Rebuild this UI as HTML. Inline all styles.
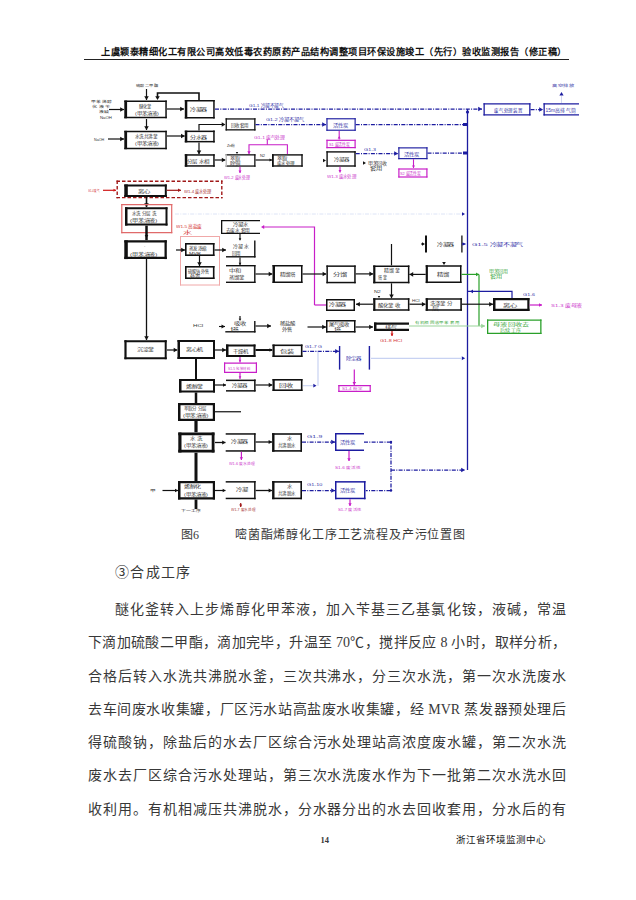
<!DOCTYPE html>
<html lang="zh-CN"><head><meta charset="utf-8">
<style>
html,body{margin:0;padding:0;background:#fff;}
body{width:636px;height:900px;position:relative;overflow:hidden;font-family:"Liberation Serif",serif;color:#383838;}
.ln{position:absolute;white-space:nowrap;text-align:justify;text-align-last:justify;line-height:1;}
.hd{left:101px;top:47.5px;width:465px;font-size:9.2px;font-weight:bold;color:#111;}
.hr{position:absolute;left:84px;top:59px;width:485px;height:1px;background:#222;}
.body{font-size:14px;width:478px;left:88px;}
.cap{position:absolute;top:529px;font-size:12px;line-height:1;white-space:nowrap;}
svg{position:absolute;left:0;top:0;}
</style></head><body>
<div class="ln hd">上虞颖泰精细化工有限公司高效低毒农药原药产品结构调整项目环保设施竣工（先行）验收监测报告（修正稿）</div>
<div class="hr"></div>

<div class="cap" style="left:181px;">图6</div>
<div class="ln cap" style="left:235px;width:230px;">嘧菌酯烯醇化工序工艺流程及产污位置图</div>

<div class="ln" style="left:115px;top:566px;font-size:14px;width:75px;">③合成工序</div>
<div class="ln body" style="left:115px;width:451px;top:603px;">醚化釜转入上步烯醇化甲苯液，加入苄基三乙基氯化铵，液碱，常温</div>
<div class="ln body" style="top:636px;">下滴加硫酸二甲酯，滴加完毕，升温至 70℃，搅拌反应 8 小时，取样分析，</div>
<div class="ln body" style="top:670px;">合格后转入水洗共沸脱水釜，三次共沸水，分三次水洗，第一次水洗废水</div>
<div class="ln body" style="top:703px;">去车间废水收集罐，厂区污水站高盐废水收集罐，经 MVR 蒸发器预处理后</div>
<div class="ln body" style="top:735.5px;">得硫酸钠，除盐后的水去厂区综合污水处理站高浓度废水罐，第二次水洗</div>
<div class="ln body" style="top:769px;">废水去厂区综合污水处理站，第三次水洗废水作为下一批第二次水洗水回</div>
<div class="ln body" style="top:802.5px;">收利用。有机相减压共沸脱水，分水器分出的水去回收套用，分水后的有</div>

<div class="ln" style="left:320.5px;top:835.5px;font-size:8.5px;font-weight:bold;">14</div>
<div class="ln" style="left:456px;top:836px;width:86px;font-size:9.5px;color:#111;">浙江省环境监测中心</div>

<svg width="636" height="900" viewBox="0 0 636 900" style="font-family:'Liberation Sans',sans-serif">
<text x="91" y="103" font-size="3.82" fill="#333" text-anchor="start" textLength="21.2" lengthAdjust="spacingAndGlyphs">甲苯 烯醇</text>
<text x="92" y="108" font-size="3.82" fill="#333" text-anchor="start" textLength="18.7" lengthAdjust="spacingAndGlyphs">化 液 苄</text>
<text x="99" y="113" font-size="3.82" fill="#333" text-anchor="start" textLength="10.2" lengthAdjust="spacingAndGlyphs">液碱</text>
<text x="100" y="119" font-size="3.82" fill="#333" text-anchor="start" textLength="11.9" lengthAdjust="spacingAndGlyphs">NaOH</text>
<line x1="109" y1="109.5" x2="124" y2="109.5" stroke="#111" stroke-width="1.2"/>
<polygon points="124.00,109.50 120.20,107.22 120.20,111.78" fill="#111"/>
<text x="136" y="87" font-size="3.82" fill="#333" text-anchor="start" textLength="22.1" lengthAdjust="spacingAndGlyphs">硫酸二甲酯</text>
<line x1="146.5" y1="89" x2="146.5" y2="100" stroke="#111" stroke-width="1.2"/>
<polygon points="146.50,100.00 144.22,96.20 148.78,96.20" fill="#111"/>
<rect x="124.3" y="100.5" width="42.500000000000014" height="17.799999999999997" fill="#fff"/>
<line x1="124.3" y1="101.25" x2="166.8" y2="101.25" stroke="#111" stroke-width="1.5"/>
<line x1="124.3" y1="117.55" x2="166.8" y2="117.55" stroke="#111" stroke-width="1.5"/>
<line x1="166.05" y1="100.5" x2="166.05" y2="118.3" stroke="#111" stroke-width="1.5"/>
<line x1="125.7" y1="100.5" x2="125.7" y2="118.3" stroke="#111" stroke-width="2.8"/>
<text x="139" y="108" font-size="4.25" fill="#333" text-anchor="start" textLength="11.9" lengthAdjust="spacingAndGlyphs">醚化釜</text>
<text x="135" y="115" font-size="4.25" fill="#333" text-anchor="start" textLength="23.8" lengthAdjust="spacingAndGlyphs">(甲苯溶液)</text>
<polyline points="199,100 199,93 157.5,93 157.5,97" fill="none" stroke="#111" stroke-width="1.6"/>
<polygon points="157.50,100.00 155.22,96.20 159.78,96.20" fill="#111"/>
<line x1="167" y1="109" x2="184" y2="109" stroke="#111" stroke-width="1.2"/>
<polygon points="184.00,109.00 180.20,106.72 180.20,111.28" fill="#111"/>
<rect x="184.8" y="100" width="29.899999999999977" height="18.5" fill="#fff"/>
<line x1="184.8" y1="100.75" x2="214.7" y2="100.75" stroke="#111" stroke-width="1.5"/>
<line x1="184.8" y1="117.75" x2="214.7" y2="117.75" stroke="#111" stroke-width="1.5"/>
<line x1="213.95" y1="100" x2="213.95" y2="118.5" stroke="#111" stroke-width="1.5"/>
<line x1="186.05" y1="100" x2="186.05" y2="118.5" stroke="#111" stroke-width="2.5"/>
<text x="190" y="111" font-size="4.25" fill="#333" text-anchor="start" textLength="17.0" lengthAdjust="spacingAndGlyphs">冷凝器</text>
<line x1="146.5" y1="119" x2="146.5" y2="130" stroke="#111" stroke-width="1.2"/>
<polygon points="146.50,130.00 144.22,126.20 148.78,126.20" fill="#111"/>
<text x="94" y="141" font-size="3.82" fill="#333" text-anchor="start" textLength="10.2" lengthAdjust="spacingAndGlyphs">NaOH</text>
<line x1="108" y1="139" x2="124" y2="139" stroke="#111" stroke-width="1.2"/>
<polygon points="124.00,139.00 120.20,136.72 120.20,141.28" fill="#111"/>
<rect x="124.3" y="130.8" width="42.500000000000014" height="18.399999999999977" fill="#fff"/>
<line x1="124.3" y1="131.55" x2="166.8" y2="131.55" stroke="#111" stroke-width="1.5"/>
<line x1="124.3" y1="148.45" x2="166.8" y2="148.45" stroke="#111" stroke-width="1.5"/>
<line x1="166.05" y1="130.8" x2="166.05" y2="149.2" stroke="#111" stroke-width="1.5"/>
<line x1="125.7" y1="130.8" x2="125.7" y2="149.2" stroke="#111" stroke-width="2.8"/>
<text x="135" y="138" font-size="4.25" fill="#333" text-anchor="start" textLength="22.1" lengthAdjust="spacingAndGlyphs">水洗共沸釜</text>
<text x="135" y="145" font-size="4.25" fill="#333" text-anchor="start" textLength="23.8" lengthAdjust="spacingAndGlyphs">(甲苯溶液)</text>
<line x1="167" y1="136" x2="184.8" y2="136" stroke="#111" stroke-width="1.2"/>
<polygon points="184.80,136.00 181.00,133.72 181.00,138.28" fill="#111"/>
<rect x="184.8" y="130.6" width="29.899999999999977" height="11.800000000000011" fill="#fff"/>
<line x1="184.8" y1="131.35" x2="214.7" y2="131.35" stroke="#111" stroke-width="1.5"/>
<line x1="184.8" y1="141.65" x2="214.7" y2="141.65" stroke="#111" stroke-width="1.5"/>
<line x1="213.95" y1="130.6" x2="213.95" y2="142.4" stroke="#111" stroke-width="1.5"/>
<line x1="186.05" y1="130.6" x2="186.05" y2="142.4" stroke="#111" stroke-width="2.5"/>
<text x="190" y="139" font-size="4.25" fill="#333" text-anchor="start" textLength="17.0" lengthAdjust="spacingAndGlyphs">分水器</text>
<polyline points="199,130.6 199,124.5 222,124.5" fill="none" stroke="#111" stroke-width="1.2"/>
<polygon points="225.50,124.50 221.70,122.22 221.70,126.78" fill="#111"/>
<rect x="225.6" y="118.3" width="29.900000000000006" height="12.200000000000003" fill="#fff"/>
<line x1="225.6" y1="118.95" x2="255.5" y2="118.95" stroke="#111" stroke-width="1.3"/>
<line x1="225.6" y1="129.85" x2="255.5" y2="129.85" stroke="#111" stroke-width="1.3"/>
<line x1="254.85" y1="118.3" x2="254.85" y2="130.5" stroke="#111" stroke-width="1.3"/>
<line x1="226.25" y1="118.3" x2="226.25" y2="130.5" stroke="#111" stroke-width="1.3"/>
<text x="231" y="127" font-size="4.25" fill="#333" text-anchor="start" textLength="17.0" lengthAdjust="spacingAndGlyphs">回收套用</text>
<line x1="199" y1="142.4" x2="199" y2="154.2" stroke="#111" stroke-width="1.2"/>
<polygon points="199.00,154.20 196.72,150.40 201.28,150.40" fill="#111"/>
<rect x="184.8" y="154.2" width="29.899999999999977" height="12.5" fill="#fff"/>
<line x1="184.8" y1="154.95" x2="214.7" y2="154.95" stroke="#111" stroke-width="1.5"/>
<line x1="184.8" y1="165.95" x2="214.7" y2="165.95" stroke="#111" stroke-width="1.5"/>
<line x1="213.95" y1="154.2" x2="213.95" y2="166.7" stroke="#111" stroke-width="1.5"/>
<line x1="186.05" y1="154.2" x2="186.05" y2="166.7" stroke="#111" stroke-width="2.5"/>
<text x="187" y="163" font-size="4.25" fill="#333" text-anchor="start" textLength="22.1" lengthAdjust="spacingAndGlyphs">分层 水相</text>
<line x1="214.7" y1="160" x2="225.6" y2="160" stroke="#111" stroke-width="1.2"/>
<polygon points="225.60,160.00 221.80,157.72 221.80,162.28" fill="#111"/>
<text x="227" y="147" font-size="3.82" fill="#333" text-anchor="start" textLength="8.5" lengthAdjust="spacingAndGlyphs">Zn粉</text>
<polygon points="237.00,154.00 235.80,152.00 238.20,152.00" fill="#111"/>
<rect x="225.6" y="154.2" width="29.900000000000006" height="12.5" fill="#fff"/>
<line x1="225.6" y1="154.85" x2="255.5" y2="154.85" stroke="#111" stroke-width="1.3"/>
<line x1="225.6" y1="166.04999999999998" x2="255.5" y2="166.04999999999998" stroke="#111" stroke-width="1.3"/>
<line x1="254.85" y1="154.2" x2="254.85" y2="166.7" stroke="#111" stroke-width="1.3"/>
<line x1="226.25" y1="154.2" x2="226.25" y2="166.7" stroke="#bbb" stroke-width="1.3"/>
<text x="230" y="160" font-size="4.25" fill="#333" text-anchor="start" textLength="10.2" lengthAdjust="spacingAndGlyphs">萃取</text>
<text x="230" y="165" font-size="4.25" fill="#333" text-anchor="start" textLength="10.2" lengthAdjust="spacingAndGlyphs">除铜</text>
<polyline points="249,154 249,144.7 287.4,144.7 287.4,154" fill="none" stroke="#c81ec8" stroke-width="1.1"/>
<polygon points="249.00,154.00 247.32,151.20 250.68,151.20" fill="#c81ec8"/>
<line x1="267.3" y1="139.5" x2="267.3" y2="144.7" stroke="#c81ec8" stroke-width="1.1"/>
<text x="254" y="139" font-size="4.25" fill="#c81ec8" text-anchor="start" textLength="30.6" lengthAdjust="spacingAndGlyphs" opacity="0.9">G1-1 废气处理</text>
<line x1="255.5" y1="160" x2="272" y2="160" stroke="#111" stroke-width="1.2"/>
<polygon points="272.00,160.00 269.50,158.50 269.50,161.50" fill="#111"/>
<text x="260" y="157" font-size="3.4" fill="#333" text-anchor="start" textLength="5.1" lengthAdjust="spacingAndGlyphs">N2</text>
<rect x="272" y="154.2" width="30.69999999999999" height="12.5" fill="#fff"/>
<line x1="272" y1="154.89999999999998" x2="302.7" y2="154.89999999999998" stroke="#111" stroke-width="1.4"/>
<line x1="272" y1="166.0" x2="302.7" y2="166.0" stroke="#111" stroke-width="1.4"/>
<line x1="302.0" y1="154.2" x2="302.0" y2="166.7" stroke="#111" stroke-width="1.4"/>
<line x1="272.9" y1="154.2" x2="272.9" y2="166.7" stroke="#111" stroke-width="1.8"/>
<text x="277" y="160" font-size="4.25" fill="#333" text-anchor="start" textLength="10.2" lengthAdjust="spacingAndGlyphs">萃取</text>
<text x="277" y="165" font-size="4.25" fill="#333" text-anchor="start" textLength="17.0" lengthAdjust="spacingAndGlyphs">废水处理</text>
<line x1="240" y1="166.7" x2="240" y2="173" stroke="#c81ec8" stroke-width="1.1"/>
<polygon points="240.00,173.00 238.50,170.50 241.50,170.50" fill="#c81ec8"/>
<text x="224" y="179" font-size="4.25" fill="#c81ec8" text-anchor="start" textLength="25.5" lengthAdjust="spacingAndGlyphs" opacity="0.9">W1-2 废水处理</text>
<line x1="215" y1="109" x2="482" y2="109" stroke="#1c1ca0" stroke-width="1.25" stroke-dasharray="4,1.3,1,1.3"/>
<polygon points="482.00,109.00 478.20,106.72 478.20,111.28" fill="#1c1ca0"/>
<text x="249" y="107" font-size="4.25" fill="#1c1ca0" text-anchor="start" textLength="34.0" lengthAdjust="spacingAndGlyphs" opacity="0.9">G1-1 冷凝不凝气</text>
<line x1="255.5" y1="124.5" x2="326" y2="124.5" stroke="#1c1ca0" stroke-width="1.25" stroke-dasharray="4,1.3,1,1.3"/>
<polygon points="326.00,124.50 322.20,122.22 322.20,126.78" fill="#1c1ca0"/>
<text x="266" y="121" font-size="4.25" fill="#1c1ca0" text-anchor="start" textLength="37.4" lengthAdjust="spacingAndGlyphs" opacity="0.9">G1-2 冷凝不凝气</text>
<rect x="326.4" y="118.2" width="29.30000000000001" height="12.600000000000009" fill="#fff"/>
<line x1="326.4" y1="118.775" x2="355.7" y2="118.775" stroke="#1c1ca0" stroke-width="1.15"/>
<line x1="326.4" y1="130.22500000000002" x2="355.7" y2="130.22500000000002" stroke="#1c1ca0" stroke-width="1.15"/>
<line x1="355.125" y1="118.2" x2="355.125" y2="130.8" stroke="#1c1ca0" stroke-width="1.15"/>
<line x1="326.97499999999997" y1="118.2" x2="326.97499999999997" y2="130.8" stroke="#1c1ca0" stroke-width="1.15"/>
<text x="333" y="127" font-size="4.25" fill="#1c1ca0" text-anchor="start" textLength="15.3" lengthAdjust="spacingAndGlyphs" opacity="0.9">活性炭</text>
<line x1="355.7" y1="124.5" x2="464" y2="124.5" stroke="#1c1ca0" stroke-width="1.25" stroke-dasharray="4,1.3,1,1.3"/>
<rect x="463" y="123" width="4" height="3" fill="#1c1ca0"/>
<line x1="339.2" y1="131" x2="339.2" y2="139.7" stroke="#c81ec8" stroke-width="1.1"/>
<polygon points="339.20,136.00 337.70,138.50 340.70,138.50" fill="#c81ec8"/>
<rect x="326.4" y="139.7" width="29.30000000000001" height="8.5" fill="#fff"/>
<line x1="326.4" y1="140.29999999999998" x2="355.7" y2="140.29999999999998" stroke="#c81ec8" stroke-width="1.2"/>
<line x1="326.4" y1="147.6" x2="355.7" y2="147.6" stroke="#c81ec8" stroke-width="1.2"/>
<line x1="355.09999999999997" y1="139.7" x2="355.09999999999997" y2="148.2" stroke="#c81ec8" stroke-width="1.2"/>
<line x1="327.0" y1="139.7" x2="327.0" y2="148.2" stroke="#c81ec8" stroke-width="1.2"/>
<text x="329" y="146" font-size="4.25" fill="#c81ec8" text-anchor="start" textLength="20.4" lengthAdjust="spacingAndGlyphs" opacity="0.9">S1 废活性炭</text>
<rect x="326.4" y="151.2" width="29.30000000000001" height="15.5" fill="#fff"/>
<line x1="326.4" y1="151.89999999999998" x2="355.7" y2="151.89999999999998" stroke="#111" stroke-width="1.4"/>
<line x1="326.4" y1="166.0" x2="355.7" y2="166.0" stroke="#111" stroke-width="1.4"/>
<line x1="355.0" y1="151.2" x2="355.0" y2="166.7" stroke="#111" stroke-width="1.4"/>
<line x1="327.09999999999997" y1="151.2" x2="327.09999999999997" y2="166.7" stroke="#111" stroke-width="1.4"/>
<polygon points="326.00,160.50 323.00,158.70 323.00,162.30" fill="#111"/>
<text x="334" y="161" font-size="4.25" fill="#333" text-anchor="start" textLength="15.3" lengthAdjust="spacingAndGlyphs">冷凝器</text>
<line x1="340" y1="166.7" x2="340" y2="172.5" stroke="#c81ec8" stroke-width="1.1"/>
<polygon points="340.00,172.50 338.50,170.00 341.50,170.00" fill="#c81ec8"/>
<text x="327" y="178" font-size="4.25" fill="#c81ec8" text-anchor="start" textLength="28.9" lengthAdjust="spacingAndGlyphs" opacity="0.9">W1-3 废水处理</text>
<line x1="355.7" y1="153.5" x2="398" y2="153.5" stroke="#1c1ca0" stroke-width="1.25" stroke-dasharray="4,1.3,1,1.3"/>
<polygon points="398.00,153.50 394.20,151.22 394.20,155.78" fill="#1c1ca0"/>
<text x="364" y="151" font-size="4.25" fill="#1c1ca0" text-anchor="start" textLength="11.9" lengthAdjust="spacingAndGlyphs" opacity="0.9">G1-3</text>
<polygon points="366.00,163.00 363.00,161.20 363.00,164.80" fill="#111"/>
<text x="368" y="165" font-size="4.25" fill="#333" text-anchor="start" textLength="18.7" lengthAdjust="spacingAndGlyphs">甲苯回收</text>
<text x="370" y="170" font-size="4.25" fill="#333" text-anchor="start" textLength="11.9" lengthAdjust="spacingAndGlyphs">套用</text>
<rect x="398.3" y="147.3" width="29.19999999999999" height="11.899999999999977" fill="#fff"/>
<line x1="398.3" y1="147.875" x2="427.5" y2="147.875" stroke="#1c1ca0" stroke-width="1.15"/>
<line x1="398.3" y1="158.625" x2="427.5" y2="158.625" stroke="#1c1ca0" stroke-width="1.15"/>
<line x1="426.925" y1="147.3" x2="426.925" y2="159.2" stroke="#1c1ca0" stroke-width="1.15"/>
<line x1="398.875" y1="147.3" x2="398.875" y2="159.2" stroke="#1c1ca0" stroke-width="1.15"/>
<text x="404" y="156" font-size="4.25" fill="#1c1ca0" text-anchor="start" textLength="15.3" lengthAdjust="spacingAndGlyphs" opacity="0.9">活性炭</text>
<line x1="427.5" y1="153" x2="464" y2="153" stroke="#1c1ca0" stroke-width="1.25" stroke-dasharray="4,1.3,1,1.3"/>
<rect x="463" y="151.5" width="4" height="3" fill="#1c1ca0"/>
<line x1="413.5" y1="159.2" x2="413.5" y2="168" stroke="#c81ec8" stroke-width="1.1"/>
<polygon points="413.50,168.00 412.00,165.50 415.00,165.50" fill="#c81ec8"/>
<rect x="398.3" y="168.4" width="29.19999999999999" height="9.199999999999989" fill="#fff"/>
<line x1="398.3" y1="169.0" x2="427.5" y2="169.0" stroke="#c81ec8" stroke-width="1.2"/>
<line x1="398.3" y1="177.0" x2="427.5" y2="177.0" stroke="#c81ec8" stroke-width="1.2"/>
<line x1="426.9" y1="168.4" x2="426.9" y2="177.6" stroke="#c81ec8" stroke-width="1.2"/>
<line x1="398.90000000000003" y1="168.4" x2="398.90000000000003" y2="177.6" stroke="#c81ec8" stroke-width="1.2"/>
<text x="400" y="175" font-size="4.25" fill="#c81ec8" text-anchor="start" textLength="20.4" lengthAdjust="spacingAndGlyphs" opacity="0.9">S2 废活性炭</text>
<line x1="467.5" y1="109" x2="467.5" y2="470" stroke="#1c1ca0" stroke-width="1.3"/>
<circle cx="467.5" cy="112" r="1.6" fill="#1c1ca0"/>
<rect x="483.5" y="103.3" width="47.0" height="12.200000000000003" fill="#fff"/>
<line x1="483.5" y1="103.95" x2="530.5" y2="103.95" stroke="#1c1ca0" stroke-width="1.3"/>
<line x1="483.5" y1="114.85" x2="530.5" y2="114.85" stroke="#1c1ca0" stroke-width="1.3"/>
<line x1="529.85" y1="103.3" x2="529.85" y2="115.5" stroke="#1c1ca0" stroke-width="1.3"/>
<line x1="484.15" y1="103.3" x2="484.15" y2="115.5" stroke="#1c1ca0" stroke-width="1.3"/>
<text x="494" y="112" font-size="4.67" fill="#1c1ca0" text-anchor="start" textLength="28.9" lengthAdjust="spacingAndGlyphs" opacity="0.9">废气处理装置</text>
<line x1="530.5" y1="109.5" x2="543" y2="109.5" stroke="#1c1ca0" stroke-width="1.25" stroke-dasharray="4,1.3,1,1.3"/>
<polygon points="543.00,109.50 539.20,107.22 539.20,111.78" fill="#1c1ca0"/>
<rect x="543.5" y="103.3" width="35.5" height="12.200000000000003" fill="#fff"/>
<line x1="543.5" y1="103.95" x2="579" y2="103.95" stroke="#1c1ca0" stroke-width="1.3"/>
<line x1="543.5" y1="114.85" x2="579" y2="114.85" stroke="#1c1ca0" stroke-width="1.3"/>
<line x1="544.15" y1="103.3" x2="544.15" y2="115.5" stroke="#1c1ca0" stroke-width="1.3"/>
<text x="545.5" y="112" font-size="4.67" fill="#1c1ca0" text-anchor="start" textLength="30.6" lengthAdjust="spacingAndGlyphs" opacity="0.9">15m高排气筒</text>
<line x1="561.5" y1="103" x2="561.5" y2="96" stroke="#c8ccee" stroke-width="0.8"/>
<polygon points="561.50,92.00 559.40,95.50 563.60,95.50" fill="#1c1ca0"/>
<text x="552" y="86.5" font-size="3.82" fill="#1c1ca0" text-anchor="start" textLength="22.1" lengthAdjust="spacingAndGlyphs" opacity="0.9">高空排放</text>
<line x1="116.5" y1="181.2" x2="222.5" y2="181.2" stroke="#a01818" stroke-width="1.4" stroke-dasharray="3.5,2"/>
<line x1="116.5" y1="197.60000000000002" x2="222.5" y2="197.60000000000002" stroke="#a01818" stroke-width="1.4" stroke-dasharray="3.5,2"/>
<line x1="221.8" y1="180.5" x2="221.8" y2="198.3" stroke="#a01818" stroke-width="1.4" stroke-dasharray="3.5,2"/>
<line x1="117.2" y1="180.5" x2="117.2" y2="198.3" stroke="#a01818" stroke-width="1.4" stroke-dasharray="3.5,2"/>
<rect x="124.3" y="184.4" width="42.500000000000014" height="12.599999999999994" fill="#fff"/>
<line x1="124.3" y1="185.4" x2="166.8" y2="185.4" stroke="#111" stroke-width="2"/>
<line x1="124.3" y1="196.0" x2="166.8" y2="196.0" stroke="#111" stroke-width="2"/>
<line x1="165.8" y1="184.4" x2="165.8" y2="197" stroke="#111" stroke-width="2"/>
<line x1="126.05" y1="184.4" x2="126.05" y2="197" stroke="#111" stroke-width="3.5"/>
<text x="138" y="193" font-size="4.25" fill="#333" text-anchor="start" textLength="11.9" lengthAdjust="spacingAndGlyphs">离心</text>
<text x="88" y="192" font-size="3.82" fill="#d01818" text-anchor="start" textLength="11.9" lengthAdjust="spacingAndGlyphs" opacity="0.9">G1-4 废气</text>
<line x1="103" y1="190.3" x2="116" y2="190.3" stroke="#d01818" stroke-width="1.2"/>
<polygon points="116.00,190.30 113.50,188.80 113.50,191.80" fill="#d01818"/>
<line x1="166.8" y1="190.3" x2="181" y2="190.3" stroke="#a01818" stroke-width="1.2"/>
<polygon points="181.00,190.30 178.00,188.50 178.00,192.10" fill="#a01818"/>
<text x="184" y="193" font-size="4.25" fill="#a01818" text-anchor="start" textLength="27.2" lengthAdjust="spacingAndGlyphs" opacity="0.9">W1-4 废水处理</text>
<line x1="146.5" y1="197" x2="146.5" y2="207" stroke="#111" stroke-width="1.6"/>
<polygon points="146.50,207.00 144.22,203.20 148.78,203.20" fill="#111"/>
<line x1="121.2" y1="204.6" x2="172.3" y2="204.6" stroke="#e06a6a" stroke-width="1.2"/>
<line x1="121.2" y1="232.6" x2="172.3" y2="232.6" stroke="#e06a6a" stroke-width="1.2"/>
<line x1="171.70000000000002" y1="204" x2="171.70000000000002" y2="233.2" stroke="#e06a6a" stroke-width="1.2"/>
<line x1="121.8" y1="204" x2="121.8" y2="233.2" stroke="#e06a6a" stroke-width="1.2"/>
<rect x="125" y="207.2" width="42.5" height="18.400000000000006" fill="#fff"/>
<line x1="125" y1="208.2" x2="167.5" y2="208.2" stroke="#111" stroke-width="2"/>
<line x1="125" y1="224.6" x2="167.5" y2="224.6" stroke="#111" stroke-width="2"/>
<line x1="166.5" y1="207.2" x2="166.5" y2="225.6" stroke="#111" stroke-width="2"/>
<line x1="126.25" y1="207.2" x2="126.25" y2="225.6" stroke="#111" stroke-width="2.5"/>
<text x="132" y="215" font-size="4.25" fill="#333" text-anchor="start" textLength="23.8" lengthAdjust="spacingAndGlyphs">水洗 分层 洗</text>
<text x="130" y="222" font-size="4.25" fill="#333" text-anchor="start" textLength="27.2" lengthAdjust="spacingAndGlyphs">(甲苯溶液)</text>
<line x1="146.5" y1="225.6" x2="146.5" y2="240.3" stroke="#111" stroke-width="2.5"/>
<polygon points="146.50,238.00 144.70,235.00 148.30,235.00" fill="#111"/>
<rect x="124.3" y="240.3" width="42.500000000000014" height="18.80000000000001" fill="#fff"/>
<line x1="124.3" y1="241.45000000000002" x2="166.8" y2="241.45000000000002" stroke="#111" stroke-width="2.3"/>
<line x1="124.3" y1="257.95000000000005" x2="166.8" y2="257.95000000000005" stroke="#111" stroke-width="2.3"/>
<line x1="165.65" y1="240.3" x2="165.65" y2="259.1" stroke="#111" stroke-width="2.3"/>
<line x1="126.05" y1="240.3" x2="126.05" y2="259.1" stroke="#111" stroke-width="3.5"/>
<text x="144" y="248" font-size="4.25" fill="#333" text-anchor="start">·</text>
<text x="130" y="256" font-size="4.25" fill="#333" text-anchor="start" textLength="27.2" lengthAdjust="spacingAndGlyphs">(甲苯溶液)</text>
<line x1="146.5" y1="259" x2="146.5" y2="340" stroke="#111" stroke-width="1.3"/>
<polygon points="146.50,340.00 144.22,336.20 148.78,336.20" fill="#111"/>
<text x="176" y="228" font-size="4.25" fill="#d01818" text-anchor="start" textLength="25.5" lengthAdjust="spacingAndGlyphs" opacity="0.9">W1-5 高盐废</text>
<text x="183" y="234" font-size="4.25" fill="#d01818" text-anchor="start" textLength="8.5" lengthAdjust="spacingAndGlyphs" opacity="0.9">水</text>
<line x1="180" y1="236.5" x2="220" y2="236.5" stroke="#f0a8a8" stroke-width="1"/>
<line x1="180" y1="285.0" x2="220" y2="285.0" stroke="#f0a8a8" stroke-width="1"/>
<line x1="219.5" y1="236" x2="219.5" y2="285.5" stroke="#f0a8a8" stroke-width="1"/>
<line x1="180.5" y1="236" x2="180.5" y2="285.5" stroke="#f0a8a8" stroke-width="1"/>
<line x1="176" y1="250" x2="185" y2="250" stroke="#111" stroke-width="1.2"/>
<polygon points="185.00,250.00 181.20,247.72 181.20,252.28" fill="#111"/>
<rect x="185" y="243" width="29.5" height="13" fill="#fff"/>
<line x1="185" y1="243.8" x2="214.5" y2="243.8" stroke="#111" stroke-width="1.6"/>
<line x1="185" y1="255.2" x2="214.5" y2="255.2" stroke="#111" stroke-width="1.6"/>
<line x1="213.7" y1="243" x2="213.7" y2="256" stroke="#111" stroke-width="1.6"/>
<line x1="185.8" y1="243" x2="185.8" y2="256" stroke="#111" stroke-width="1.6"/>
<text x="189" y="250" font-size="4.25" fill="#333" text-anchor="start" textLength="17.0" lengthAdjust="spacingAndGlyphs">蒸发浓缩</text>
<text x="189" y="255" font-size="4.25" fill="#333" text-anchor="start" textLength="11.9" lengthAdjust="spacingAndGlyphs">MVR</text>
<line x1="199.5" y1="256" x2="199.5" y2="266" stroke="#111" stroke-width="1.2"/>
<polygon points="199.50,266.00 197.22,262.20 201.78,262.20" fill="#111"/>
<rect x="185" y="266" width="29.5" height="13" fill="#fff"/>
<line x1="185" y1="266.8" x2="214.5" y2="266.8" stroke="#111" stroke-width="1.6"/>
<line x1="185" y1="278.2" x2="214.5" y2="278.2" stroke="#111" stroke-width="1.6"/>
<line x1="213.7" y1="266" x2="213.7" y2="279" stroke="#111" stroke-width="1.6"/>
<line x1="185.8" y1="266" x2="185.8" y2="279" stroke="#111" stroke-width="1.6"/>
<text x="188" y="273" font-size="4.25" fill="#333" text-anchor="start" textLength="20.4" lengthAdjust="spacingAndGlyphs">硫酸钠 外售</text>
<text x="190" y="278" font-size="4.25" fill="#333" text-anchor="start" textLength="10.2" lengthAdjust="spacingAndGlyphs">处置</text>
<line x1="214.5" y1="250" x2="226" y2="250" stroke="#111" stroke-width="1.2"/>
<polygon points="226.00,250.00 222.20,247.72 222.20,252.28" fill="#111"/>
<line x1="175" y1="214" x2="462" y2="214" stroke="#dde4f6" stroke-width="1" stroke-dasharray="4,1.3,1,1.3"/>
<polygon points="465.00,214.00 462.00,212.20 462.00,215.80" fill="#1c1ca0"/>
<rect x="221" y="220" width="39" height="14" fill="#fff"/>
<line x1="221" y1="220.65" x2="260" y2="220.65" stroke="#111" stroke-width="1.3"/>
<line x1="221" y1="233.35" x2="260" y2="233.35" stroke="#111" stroke-width="1.3"/>
<line x1="221.65" y1="220" x2="221.65" y2="234" stroke="#111" stroke-width="1.3"/>
<text x="233" y="226" font-size="4.25" fill="#333" text-anchor="start" textLength="15.3" lengthAdjust="spacingAndGlyphs">冷凝水</text>
<text x="226" y="232" font-size="4.25" fill="#333" text-anchor="start" textLength="23.8" lengthAdjust="spacingAndGlyphs">去废水 套用</text>
<polyline points="314.5,305 314.5,227 264,227" fill="none" stroke="#c81ec8" stroke-width="1.2"/>
<polygon points="261.00,227.00 264.20,225.08 264.20,228.92" fill="#c81ec8"/>
<line x1="326" y1="305" x2="314.5" y2="305" stroke="#c81ec8" stroke-width="1.2"/>
<line x1="240" y1="234" x2="240" y2="240.5" stroke="#111" stroke-width="1.1"/>
<polygon points="240.00,240.50 238.68,238.30 241.32,238.30" fill="#111"/>
<rect x="226" y="240.5" width="29.5" height="17.0" fill="#fff"/>
<line x1="226" y1="256.8" x2="255.5" y2="256.8" stroke="#111" stroke-width="1.4"/>
<line x1="254.8" y1="240.5" x2="254.8" y2="257.5" stroke="#111" stroke-width="1.4"/>
<text x="233" y="248" font-size="4.25" fill="#333" text-anchor="start" textLength="15.3" lengthAdjust="spacingAndGlyphs">冷凝 水</text>
<text x="232" y="255" font-size="4.25" fill="#333" text-anchor="start" textLength="8.5" lengthAdjust="spacingAndGlyphs">回用</text>
<line x1="240" y1="257.5" x2="240" y2="265" stroke="#111" stroke-width="1.1"/>
<polygon points="240.00,265.00 238.68,262.80 241.32,262.80" fill="#111"/>
<rect x="226" y="265" width="29.5" height="18" fill="#fff"/>
<line x1="226" y1="265.7" x2="255.5" y2="265.7" stroke="#111" stroke-width="1.4"/>
<line x1="226" y1="282.3" x2="255.5" y2="282.3" stroke="#111" stroke-width="1.4"/>
<line x1="254.8" y1="265" x2="254.8" y2="283" stroke="#111" stroke-width="1.4"/>
<text x="229" y="272" font-size="4.25" fill="#333" text-anchor="start" textLength="11.9" lengthAdjust="spacingAndGlyphs">中和</text>
<text x="229" y="279" font-size="4.25" fill="#333" text-anchor="start" textLength="15.3" lengthAdjust="spacingAndGlyphs">蒸馏釜</text>
<line x1="255.5" y1="274" x2="272.5" y2="274" stroke="#111" stroke-width="1.2"/>
<polygon points="272.50,274.00 268.70,271.72 268.70,276.28" fill="#111"/>
<rect x="272.5" y="265" width="30.0" height="18" fill="#fff"/>
<line x1="272.5" y1="265.75" x2="302.5" y2="265.75" stroke="#111" stroke-width="1.5"/>
<line x1="272.5" y1="282.25" x2="302.5" y2="282.25" stroke="#111" stroke-width="1.5"/>
<line x1="301.75" y1="265" x2="301.75" y2="283" stroke="#111" stroke-width="1.5"/>
<line x1="273.75" y1="265" x2="273.75" y2="283" stroke="#111" stroke-width="2.5"/>
<text x="280" y="276" font-size="4.25" fill="#333" text-anchor="start" textLength="15.3" lengthAdjust="spacingAndGlyphs">精馏塔</text>
<line x1="302.5" y1="274" x2="326.4" y2="274" stroke="#111" stroke-width="1.2"/>
<polygon points="326.40,274.00 322.60,271.72 322.60,276.28" fill="#111"/>
<rect x="326.4" y="265.4" width="29.30000000000001" height="17.900000000000034" fill="#fff"/>
<line x1="326.4" y1="266.15" x2="355.7" y2="266.15" stroke="#111" stroke-width="1.5"/>
<line x1="326.4" y1="282.55" x2="355.7" y2="282.55" stroke="#111" stroke-width="1.5"/>
<line x1="354.95" y1="265.4" x2="354.95" y2="283.3" stroke="#111" stroke-width="1.5"/>
<line x1="327.15" y1="265.4" x2="327.15" y2="283.3" stroke="#111" stroke-width="1.5"/>
<text x="333" y="276" font-size="4.25" fill="#333" text-anchor="start" textLength="13.6" lengthAdjust="spacingAndGlyphs">分馏</text>
<line x1="355.7" y1="273.9" x2="373.2" y2="273.9" stroke="#111" stroke-width="1.2"/>
<polygon points="373.20,273.90 369.40,271.62 369.40,276.18" fill="#111"/>
<rect x="373.2" y="265.4" width="36.19999999999999" height="17.900000000000034" fill="#fff"/>
<line x1="373.2" y1="266.15" x2="409.4" y2="266.15" stroke="#111" stroke-width="1.5"/>
<line x1="373.2" y1="282.55" x2="409.4" y2="282.55" stroke="#111" stroke-width="1.5"/>
<line x1="408.65" y1="265.4" x2="408.65" y2="283.3" stroke="#111" stroke-width="1.5"/>
<line x1="374.3" y1="265.4" x2="374.3" y2="283.3" stroke="#111" stroke-width="2.2"/>
<text x="384" y="272" font-size="4.25" fill="#333" text-anchor="start" textLength="15.3" lengthAdjust="spacingAndGlyphs">精馏 釜</text>
<text x="378" y="279" font-size="4.25" fill="#333" text-anchor="start" textLength="8.5" lengthAdjust="spacingAndGlyphs">塔 釜</text>
<line x1="391.5" y1="244" x2="391.5" y2="265.4" stroke="#111" stroke-width="1.2"/>
<line x1="426" y1="235.4" x2="426" y2="252.4" stroke="#111" stroke-width="2"/>
<line x1="461.9" y1="235.4" x2="461.9" y2="252.4" stroke="#111" stroke-width="1.3"/>
<polygon points="425.00,244.00 422.00,242.20 422.00,245.80" fill="#111"/>
<line x1="421" y1="244" x2="423" y2="244" stroke="#111" stroke-width="1"/>
<text x="437" y="246" font-size="4.25" fill="#333" text-anchor="start" textLength="17.0" lengthAdjust="spacingAndGlyphs">冷凝器</text>
<line x1="462" y1="244" x2="465.5" y2="244" stroke="#1c1ca0" stroke-width="1.2"/>
<polygon points="465.50,244.00 462.50,242.20 462.50,245.80" fill="#1c1ca0"/>
<text x="472" y="246" font-size="4.25" fill="#1c1ca0" text-anchor="start" textLength="51.0" lengthAdjust="spacingAndGlyphs" opacity="0.9">G1-5 冷凝不凝气</text>
<rect x="425.7" y="265.2" width="35.80000000000001" height="17.900000000000034" fill="#fff"/>
<line x1="425.7" y1="265.95" x2="461.5" y2="265.95" stroke="#111" stroke-width="1.5"/>
<line x1="425.7" y1="282.35" x2="461.5" y2="282.35" stroke="#111" stroke-width="1.5"/>
<line x1="460.75" y1="265.2" x2="460.75" y2="283.1" stroke="#111" stroke-width="1.5"/>
<line x1="426.8" y1="265.2" x2="426.8" y2="283.1" stroke="#111" stroke-width="2.2"/>
<polygon points="444.00,265.00 442.20,262.00 445.80,262.00" fill="#111"/>
<text x="437" y="276" font-size="4.25" fill="#333" text-anchor="start" textLength="11.9" lengthAdjust="spacingAndGlyphs">精馏</text>
<line x1="425.7" y1="274.4" x2="409.4" y2="274.4" stroke="#111" stroke-width="1.2"/>
<polygon points="409.40,274.40 413.20,272.12 413.20,276.68" fill="#111"/>
<line x1="461.5" y1="274.4" x2="479" y2="274.4" stroke="#2aa02a" stroke-width="1.2"/>
<polygon points="479.00,274.40 476.00,272.60 476.00,276.20" fill="#2aa02a"/>
<line x1="479" y1="274.4" x2="479" y2="326" stroke="#2aa02a" stroke-width="1.2"/>
<text x="489" y="273" font-size="4.25" fill="#2aa02a" text-anchor="start" textLength="18.7" lengthAdjust="spacingAndGlyphs" opacity="0.9">甲苯回用</text>
<text x="490" y="278" font-size="4.25" fill="#2aa02a" text-anchor="start" textLength="11.9" lengthAdjust="spacingAndGlyphs" opacity="0.9">套用</text>
<polyline points="467.5,291.4 512,291.4 512,298" fill="none" stroke="#1c1ca0" stroke-width="1.2"/>
<polygon points="470.00,291.40 473.00,289.60 473.00,293.20" fill="#1c1ca0"/>
<text x="523" y="296" font-size="4.25" fill="#1c1ca0" text-anchor="start" textLength="11.9" lengthAdjust="spacingAndGlyphs" opacity="0.9">G1-6</text>
<rect x="326" y="299" width="29" height="12" fill="#fff"/>
<line x1="326" y1="299.75" x2="355" y2="299.75" stroke="#111" stroke-width="1.5"/>
<line x1="326" y1="310.25" x2="355" y2="310.25" stroke="#111" stroke-width="1.5"/>
<line x1="354.25" y1="299" x2="354.25" y2="311" stroke="#111" stroke-width="1.5"/>
<line x1="326.75" y1="299" x2="326.75" y2="311" stroke="#111" stroke-width="1.5"/>
<text x="329" y="306" font-size="4.25" fill="#333" text-anchor="start" textLength="17.0" lengthAdjust="spacingAndGlyphs">冷凝器</text>
<line x1="373" y1="304.2" x2="356" y2="304.2" stroke="#111" stroke-width="1.2"/>
<polygon points="356.00,304.20 359.80,301.92 359.80,306.48" fill="#111"/>
<rect x="373.2" y="298.2" width="36.19999999999999" height="12.600000000000023" fill="#fff"/>
<line x1="373.2" y1="298.95" x2="409.4" y2="298.95" stroke="#111" stroke-width="1.5"/>
<line x1="373.2" y1="310.05" x2="409.4" y2="310.05" stroke="#111" stroke-width="1.5"/>
<line x1="408.65" y1="298.2" x2="408.65" y2="310.8" stroke="#111" stroke-width="1.5"/>
<line x1="374.3" y1="298.2" x2="374.3" y2="310.8" stroke="#111" stroke-width="2.2"/>
<text x="378" y="307" font-size="4.25" fill="#333" text-anchor="start" textLength="22.1" lengthAdjust="spacingAndGlyphs">酸化釜 收</text>
<text x="374" y="293" font-size="3.82" fill="#333" text-anchor="start" textLength="6.8" lengthAdjust="spacingAndGlyphs">N2</text>
<polygon points="379.00,298.00 377.80,296.00 380.20,296.00" fill="#111"/>
<line x1="391.5" y1="283.3" x2="391.5" y2="298.2" stroke="#111" stroke-width="1.2"/>
<polygon points="391.50,298.20 389.22,294.40 393.78,294.40" fill="#111"/>
<text x="412" y="302" font-size="3.82" fill="#333" text-anchor="start" textLength="7.6" lengthAdjust="spacingAndGlyphs">HCl</text>
<line x1="409.4" y1="304.2" x2="425.7" y2="304.2" stroke="#111" stroke-width="1.2"/>
<polygon points="425.70,304.20 421.90,301.92 421.90,306.48" fill="#111"/>
<rect x="425.7" y="298.2" width="36.19999999999999" height="12.600000000000023" fill="#fff"/>
<line x1="425.7" y1="299.0" x2="461.9" y2="299.0" stroke="#111" stroke-width="1.6"/>
<line x1="425.7" y1="310.0" x2="461.9" y2="310.0" stroke="#111" stroke-width="1.6"/>
<line x1="461.09999999999997" y1="298.2" x2="461.09999999999997" y2="310.8" stroke="#111" stroke-width="1.6"/>
<line x1="426.8" y1="298.2" x2="426.8" y2="310.8" stroke="#111" stroke-width="2.2"/>
<text x="430" y="305" font-size="4.25" fill="#333" text-anchor="start" textLength="22.1" lengthAdjust="spacingAndGlyphs">洗涤釜 分</text>
<text x="432" y="310" font-size="4.25" fill="#333" text-anchor="start" textLength="6.8" lengthAdjust="spacingAndGlyphs">层</text>
<line x1="461.9" y1="304.2" x2="493" y2="304.2" stroke="#111" stroke-width="1.2"/>
<polygon points="493.00,304.20 489.20,301.92 489.20,306.48" fill="#111"/>
<rect x="493" y="298" width="36.5" height="13" fill="#fff"/>
<line x1="493" y1="299.1" x2="529.5" y2="299.1" stroke="#111" stroke-width="2.2"/>
<line x1="493" y1="309.9" x2="529.5" y2="309.9" stroke="#111" stroke-width="2.2"/>
<line x1="528.4" y1="298" x2="528.4" y2="311" stroke="#111" stroke-width="2.2"/>
<line x1="494.25" y1="298" x2="494.25" y2="311" stroke="#111" stroke-width="2.5"/>
<text x="503" y="307" font-size="4.25" fill="#333" text-anchor="start" textLength="13.6" lengthAdjust="spacingAndGlyphs">离心</text>
<line x1="529.5" y1="305" x2="542" y2="305" stroke="#c81ec8" stroke-width="1.2"/>
<polygon points="542.00,305.00 539.00,303.20 539.00,306.80" fill="#c81ec8"/>
<text x="551" y="307" font-size="4.25" fill="#c81ec8" text-anchor="start" textLength="30.6" lengthAdjust="spacingAndGlyphs" opacity="0.9">S1-3 废母液</text>
<rect x="487" y="319.5" width="54.5" height="14.5" fill="#fff"/>
<line x1="487" y1="320.15" x2="541.5" y2="320.15" stroke="#2aa02a" stroke-width="1.3"/>
<line x1="487" y1="333.35" x2="541.5" y2="333.35" stroke="#2aa02a" stroke-width="1.3"/>
<line x1="540.85" y1="319.5" x2="540.85" y2="334" stroke="#2aa02a" stroke-width="1.3"/>
<line x1="487.65" y1="319.5" x2="487.65" y2="334" stroke="#2aa02a" stroke-width="1.3"/>
<text x="493" y="326" font-size="4.25" fill="#2aa02a" text-anchor="start" textLength="35.7" lengthAdjust="spacingAndGlyphs" opacity="0.9">母液 回收去</text>
<text x="500" y="332" font-size="4.25" fill="#2aa02a" text-anchor="start" textLength="20.4" lengthAdjust="spacingAndGlyphs" opacity="0.9">后续 工序</text>
<line x1="409" y1="326" x2="485" y2="326" stroke="#9ad49a" stroke-width="1.2"/>
<polygon points="485.00,326.00 481.20,323.72 481.20,328.28" fill="#9ad49a"/>
<text x="415" y="324" font-size="3.82" fill="#2aa02a" text-anchor="start" textLength="44.2" lengthAdjust="spacingAndGlyphs" opacity="0.9">有机相 回收甲苯 套用</text>
<rect x="124.4" y="340.2" width="42.29999999999998" height="19.0" fill="#fff"/>
<line x1="124.4" y1="341.2" x2="166.7" y2="341.2" stroke="#111" stroke-width="2"/>
<line x1="124.4" y1="358.2" x2="166.7" y2="358.2" stroke="#111" stroke-width="2"/>
<line x1="165.7" y1="340.2" x2="165.7" y2="359.2" stroke="#111" stroke-width="2"/>
<line x1="125.5" y1="340.2" x2="125.5" y2="359.2" stroke="#111" stroke-width="2.2"/>
<text x="137" y="351" font-size="4.25" fill="#333" text-anchor="start" textLength="17.0" lengthAdjust="spacingAndGlyphs">沉淀釜</text>
<line x1="167" y1="350" x2="177.5" y2="350" stroke="#111" stroke-width="1.2"/>
<polygon points="177.50,350.00 173.70,347.72 173.70,352.28" fill="#111"/>
<rect x="177.5" y="340" width="37.5" height="19" fill="#fff"/>
<line x1="177.5" y1="341.0" x2="215" y2="341.0" stroke="#111" stroke-width="2"/>
<line x1="177.5" y1="358.0" x2="215" y2="358.0" stroke="#111" stroke-width="2"/>
<line x1="214.0" y1="340" x2="214.0" y2="359" stroke="#111" stroke-width="2"/>
<line x1="178.75" y1="340" x2="178.75" y2="359" stroke="#111" stroke-width="2.5"/>
<text x="186" y="351" font-size="4.25" fill="#333" text-anchor="start" textLength="17.0" lengthAdjust="spacingAndGlyphs">离心机</text>
<line x1="215" y1="350" x2="226" y2="350" stroke="#111" stroke-width="1.2"/>
<polygon points="226.00,350.00 222.20,347.72 222.20,352.28" fill="#111"/>
<rect x="226" y="344.5" width="29.5" height="12.5" fill="#fff"/>
<line x1="226" y1="345.5" x2="255.5" y2="345.5" stroke="#111" stroke-width="2"/>
<line x1="226" y1="356.0" x2="255.5" y2="356.0" stroke="#111" stroke-width="2"/>
<line x1="254.5" y1="344.5" x2="254.5" y2="357" stroke="#111" stroke-width="2"/>
<line x1="227.25" y1="344.5" x2="227.25" y2="357" stroke="#111" stroke-width="2.5"/>
<text x="233" y="353" font-size="4.25" fill="#333" text-anchor="start" textLength="15.3" lengthAdjust="spacingAndGlyphs">干燥机</text>
<line x1="255.5" y1="350" x2="272.5" y2="350" stroke="#111" stroke-width="2"/>
<polygon points="272.50,350.00 269.50,348.20 269.50,351.80" fill="#111"/>
<rect x="272.5" y="344.5" width="30.0" height="12.5" fill="#fff"/>
<line x1="272.5" y1="345.3" x2="302.5" y2="345.3" stroke="#111" stroke-width="1.6"/>
<line x1="272.5" y1="356.2" x2="302.5" y2="356.2" stroke="#111" stroke-width="1.6"/>
<line x1="301.7" y1="344.5" x2="301.7" y2="357" stroke="#111" stroke-width="1.6"/>
<line x1="273.6" y1="344.5" x2="273.6" y2="357" stroke="#111" stroke-width="2.2"/>
<text x="280" y="353" font-size="4.25" fill="#333" text-anchor="start" textLength="13.6" lengthAdjust="spacingAndGlyphs">包装</text>
<line x1="302.5" y1="351.3" x2="339" y2="351.3" stroke="#1c1ca0" stroke-width="1.25" stroke-dasharray="4,1.3,1,1.3"/>
<polygon points="339.00,351.30 335.20,349.02 335.20,353.58" fill="#1c1ca0"/>
<text x="305" y="348" font-size="3.82" fill="#1c1ca0" text-anchor="start" textLength="17.0" lengthAdjust="spacingAndGlyphs" opacity="0.9">G1-7 G</text>
<line x1="339.6" y1="346" x2="339.6" y2="369.6" stroke="#1c1ca0" stroke-width="1.4"/>
<line x1="369.4" y1="346" x2="369.4" y2="369.6" stroke="#1c1ca0" stroke-width="1.4"/>
<text x="346" y="360" font-size="4.25" fill="#1c1ca0" text-anchor="start" textLength="15.3" lengthAdjust="spacingAndGlyphs" opacity="0.9">除尘器</text>
<line x1="318" y1="351.7" x2="318" y2="385.7" stroke="#c8d2f2" stroke-width="1.2"/>
<line x1="302.5" y1="385.7" x2="313" y2="385.7" stroke="#c8d2f2" stroke-width="1.1"/>
<polygon points="316.50,385.70 313.30,383.78 313.30,387.62" fill="#1c1ca0"/>
<line x1="371" y1="358.3" x2="465" y2="358.3" stroke="#c8d2f2" stroke-width="1.2"/>
<polygon points="465.00,358.30 461.20,356.02 461.20,360.58" fill="#c8d2f2"/>
<polygon points="465.00,358.30 462.00,356.50 462.00,360.10" fill="#1c1ca0"/>
<line x1="354.3" y1="369.6" x2="354.3" y2="385" stroke="#c81ec8" stroke-width="1.2"/>
<polygon points="354.30,385.00 352.50,382.00 356.10,382.00" fill="#c81ec8"/>
<rect x="338.3" y="385" width="32.5" height="6.899999999999977" fill="#fff"/>
<line x1="338.3" y1="385.6" x2="370.8" y2="385.6" stroke="#c81ec8" stroke-width="1.2"/>
<line x1="338.3" y1="391.29999999999995" x2="370.8" y2="391.29999999999995" stroke="#c81ec8" stroke-width="1.2"/>
<line x1="370.2" y1="385" x2="370.2" y2="391.9" stroke="#c81ec8" stroke-width="1.2"/>
<line x1="338.90000000000003" y1="385" x2="338.90000000000003" y2="391.9" stroke="#c81ec8" stroke-width="1.2"/>
<text x="342" y="390" font-size="3.82" fill="#c81ec8" text-anchor="start" textLength="20.4" lengthAdjust="spacingAndGlyphs" opacity="0.9">S1-4 粉尘</text>
<rect x="224" y="362.5" width="33" height="10.5" fill="#fff"/>
<line x1="224" y1="363.1" x2="257" y2="363.1" stroke="#c81ec8" stroke-width="1.2"/>
<line x1="224" y1="372.4" x2="257" y2="372.4" stroke="#c81ec8" stroke-width="1.2"/>
<line x1="256.4" y1="362.5" x2="256.4" y2="373" stroke="#c81ec8" stroke-width="1.2"/>
<line x1="224.6" y1="362.5" x2="224.6" y2="373" stroke="#c81ec8" stroke-width="1.2"/>
<text x="228" y="370" font-size="3.82" fill="#c81ec8" text-anchor="start" textLength="22.1" lengthAdjust="spacingAndGlyphs" opacity="0.9">S1-5 包装材料</text>
<line x1="240" y1="357" x2="240" y2="362.5" stroke="#c81ec8" stroke-width="1.2"/>
<line x1="240" y1="373" x2="240" y2="379" stroke="#c81ec8" stroke-width="1.2"/>
<polygon points="240.00,362.00 238.68,359.80 241.32,359.80" fill="#c81ec8"/>
<polygon points="240.00,378.50 238.68,376.30 241.32,376.30" fill="#c81ec8"/>
<text x="193" y="327" font-size="3.82" fill="#333" text-anchor="start" textLength="10.2" lengthAdjust="spacingAndGlyphs">HCl</text>
<line x1="219" y1="326.5" x2="225" y2="326.5" stroke="#111" stroke-width="1.1"/>
<polygon points="225.00,326.50 221.50,324.40 221.50,328.60" fill="#111"/>
<rect x="225.3" y="321" width="30.19999999999999" height="11.5" fill="#fff"/>
<line x1="225.3" y1="331.8" x2="255.5" y2="331.8" stroke="#111" stroke-width="1.4"/>
<line x1="254.8" y1="321" x2="254.8" y2="332.5" stroke="#111" stroke-width="1.4"/>
<text x="234" y="325" font-size="4.25" fill="#333" text-anchor="start" textLength="11.9" lengthAdjust="spacingAndGlyphs">吸收</text>
<text x="230" y="331" font-size="4.25" fill="#333" text-anchor="start" textLength="8.5" lengthAdjust="spacingAndGlyphs">塔</text>
<polygon points="240.00,321.00 238.68,318.80 241.32,318.80" fill="#111"/>
<line x1="240" y1="316" x2="240" y2="319" stroke="#111" stroke-width="1.2"/>
<line x1="255.5" y1="326" x2="271" y2="326" stroke="#111" stroke-width="1.2"/>
<polygon points="271.00,326.00 267.20,323.72 267.20,328.28" fill="#111"/>
<text x="280" y="325" font-size="4.25" fill="#333" text-anchor="start" textLength="15.3" lengthAdjust="spacingAndGlyphs">稀盐酸</text>
<text x="282" y="331" font-size="4.25" fill="#333" text-anchor="start" textLength="10.2" lengthAdjust="spacingAndGlyphs">外售</text>
<line x1="307.5" y1="327" x2="326" y2="327" stroke="#111" stroke-width="1.2"/>
<polygon points="326.00,327.00 322.20,324.72 322.20,329.28" fill="#111"/>
<rect x="326" y="320" width="29.5" height="12.5" fill="#fff"/>
<line x1="326" y1="320.75" x2="355.5" y2="320.75" stroke="#111" stroke-width="1.5"/>
<line x1="326" y1="331.75" x2="355.5" y2="331.75" stroke="#111" stroke-width="1.5"/>
<line x1="354.75" y1="320" x2="354.75" y2="332.5" stroke="#111" stroke-width="1.5"/>
<line x1="326.75" y1="320" x2="326.75" y2="332.5" stroke="#111" stroke-width="1.5"/>
<text x="329" y="326" font-size="4.25" fill="#333" text-anchor="start" textLength="20.4" lengthAdjust="spacingAndGlyphs">尾气吸收</text>
<text x="334" y="331" font-size="4.25" fill="#333" text-anchor="start" textLength="6.8" lengthAdjust="spacingAndGlyphs">塔</text>
<line x1="355.5" y1="327" x2="373" y2="327" stroke="#111" stroke-width="1.2"/>
<polygon points="373.00,327.00 369.20,324.72 369.20,329.28" fill="#111"/>
<rect x="374" y="322.5" width="35" height="8.5" fill="#fff"/>
<line x1="374" y1="323.65" x2="409" y2="323.65" stroke="#111" stroke-width="2.3"/>
<line x1="374" y1="329.85" x2="409" y2="329.85" stroke="#111" stroke-width="2.3"/>
<line x1="375.25" y1="322.5" x2="375.25" y2="331" stroke="#111" stroke-width="2.5"/>
<text x="385" y="329" font-size="4.25" fill="#333" text-anchor="start" textLength="11.9" lengthAdjust="spacingAndGlyphs">排气</text>
<line x1="392" y1="331" x2="392" y2="336" stroke="#d01818" stroke-width="1.2"/>
<polygon points="392.00,336.00 390.50,333.50 393.50,333.50" fill="#d01818"/>
<text x="380" y="342" font-size="4.25" fill="#d01818" text-anchor="start" textLength="22.1" lengthAdjust="spacingAndGlyphs" opacity="0.9">G1-8 HCl</text>
<line x1="196" y1="359" x2="196" y2="379" stroke="#111" stroke-width="2"/>
<rect x="179" y="379" width="36" height="13.5" fill="#fff"/>
<line x1="179" y1="380.0" x2="215" y2="380.0" stroke="#111" stroke-width="2"/>
<line x1="179" y1="391.5" x2="215" y2="391.5" stroke="#111" stroke-width="2"/>
<line x1="214.0" y1="379" x2="214.0" y2="392.5" stroke="#111" stroke-width="2"/>
<line x1="180.25" y1="379" x2="180.25" y2="392.5" stroke="#111" stroke-width="2.5"/>
<text x="186" y="388" font-size="4.25" fill="#333" text-anchor="start" textLength="17.0" lengthAdjust="spacingAndGlyphs">烯醇釜</text>
<line x1="215" y1="385" x2="226" y2="385" stroke="#111" stroke-width="1.2"/>
<polygon points="226.00,385.00 223.00,383.20 223.00,386.80" fill="#111"/>
<rect x="226" y="379.6" width="29.599999999999994" height="12.0" fill="#fff"/>
<line x1="226" y1="380.35" x2="255.6" y2="380.35" stroke="#111" stroke-width="1.5"/>
<line x1="226" y1="390.85" x2="255.6" y2="390.85" stroke="#111" stroke-width="1.5"/>
<line x1="254.85" y1="379.6" x2="254.85" y2="391.6" stroke="#111" stroke-width="1.5"/>
<text x="232" y="387" font-size="4.25" fill="#333" text-anchor="start" textLength="15.3" lengthAdjust="spacingAndGlyphs">冷凝器</text>
<line x1="255.5" y1="385" x2="272.5" y2="385" stroke="#111" stroke-width="1.2"/>
<polygon points="272.50,385.00 268.70,382.72 268.70,387.28" fill="#111"/>
<rect x="272.5" y="379" width="30.0" height="12" fill="#fff"/>
<line x1="272.5" y1="379.8" x2="302.5" y2="379.8" stroke="#111" stroke-width="1.6"/>
<line x1="272.5" y1="390.2" x2="302.5" y2="390.2" stroke="#111" stroke-width="1.6"/>
<line x1="301.7" y1="379" x2="301.7" y2="391" stroke="#111" stroke-width="1.6"/>
<line x1="273.6" y1="379" x2="273.6" y2="391" stroke="#111" stroke-width="2.2"/>
<text x="279" y="387" font-size="4.25" fill="#333" text-anchor="start" textLength="13.6" lengthAdjust="spacingAndGlyphs">回收</text>
<line x1="196" y1="392.5" x2="196" y2="403" stroke="#111" stroke-width="2.5"/>
<line x1="196" y1="421" x2="196" y2="432.5" stroke="#111" stroke-width="3.2"/>
<line x1="196" y1="452.5" x2="196" y2="481" stroke="#111" stroke-width="3"/>
<rect x="178" y="403" width="37" height="18" fill="#fff"/>
<line x1="178" y1="404.1" x2="215" y2="404.1" stroke="#111" stroke-width="2.2"/>
<line x1="178" y1="419.9" x2="215" y2="419.9" stroke="#111" stroke-width="2.2"/>
<line x1="213.9" y1="403" x2="213.9" y2="421" stroke="#111" stroke-width="2.2"/>
<line x1="179.25" y1="403" x2="179.25" y2="421" stroke="#111" stroke-width="2.5"/>
<text x="184" y="410" font-size="4.25" fill="#333" text-anchor="start" textLength="22.1" lengthAdjust="spacingAndGlyphs">萃取分 分层</text>
<text x="183" y="417" font-size="4.25" fill="#333" text-anchor="start" textLength="25.5" lengthAdjust="spacingAndGlyphs">(甲苯溶液)</text>
<line x1="215" y1="411.75" x2="241" y2="411.75" stroke="#111" stroke-width="1.2"/>
<rect x="178.3" y="432.5" width="36.19999999999999" height="20.0" fill="#fff"/>
<line x1="178.3" y1="433.9" x2="214.5" y2="433.9" stroke="#111" stroke-width="2.8"/>
<line x1="178.3" y1="451.1" x2="214.5" y2="451.1" stroke="#111" stroke-width="2.8"/>
<line x1="213.1" y1="432.5" x2="213.1" y2="452.5" stroke="#111" stroke-width="2.8"/>
<line x1="179.9" y1="432.5" x2="179.9" y2="452.5" stroke="#111" stroke-width="3.2"/>
<text x="190" y="440" font-size="4.25" fill="#333" text-anchor="start" textLength="11.9" lengthAdjust="spacingAndGlyphs">水 洗</text>
<text x="184" y="447" font-size="4.25" fill="#333" text-anchor="start" textLength="23.8" lengthAdjust="spacingAndGlyphs">(甲苯溶液)</text>
<line x1="215" y1="442.5" x2="225.7" y2="442.5" stroke="#111" stroke-width="1.3"/>
<polygon points="225.70,442.50 222.20,440.40 222.20,444.60" fill="#111"/>
<rect x="225.7" y="433.2" width="29.900000000000006" height="18.5" fill="#fff"/>
<line x1="225.7" y1="433.95" x2="255.6" y2="433.95" stroke="#111" stroke-width="1.5"/>
<line x1="225.7" y1="450.95" x2="255.6" y2="450.95" stroke="#111" stroke-width="1.5"/>
<line x1="254.85" y1="433.2" x2="254.85" y2="451.7" stroke="#111" stroke-width="1.5"/>
<text x="231" y="443" font-size="4.25" fill="#333" text-anchor="start" textLength="17.0" lengthAdjust="spacingAndGlyphs">冷凝器</text>
<line x1="255.6" y1="442" x2="272.1" y2="442" stroke="#111" stroke-width="1.3"/>
<polygon points="272.10,442.00 268.60,439.90 268.60,444.10" fill="#111"/>
<rect x="272.1" y="433.2" width="29.899999999999977" height="18.5" fill="#fff"/>
<line x1="272.1" y1="434.0" x2="302" y2="434.0" stroke="#111" stroke-width="1.6"/>
<line x1="272.1" y1="450.9" x2="302" y2="450.9" stroke="#111" stroke-width="1.6"/>
<line x1="301.2" y1="433.2" x2="301.2" y2="451.7" stroke="#111" stroke-width="1.6"/>
<line x1="273.3" y1="433.2" x2="273.3" y2="451.7" stroke="#111" stroke-width="2.4"/>
<text x="287" y="440" font-size="4.25" fill="#333" text-anchor="start" textLength="5.1" lengthAdjust="spacingAndGlyphs">水</text>
<text x="278" y="447" font-size="4.25" fill="#333" text-anchor="start" textLength="17.0" lengthAdjust="spacingAndGlyphs">共沸脱水</text>
<line x1="302" y1="442" x2="335" y2="442" stroke="#1c1ca0" stroke-width="1.25" stroke-dasharray="4,1.3,1,1.3"/>
<polygon points="335.00,442.00 331.20,439.72 331.20,444.28" fill="#1c1ca0"/>
<text x="307" y="438" font-size="3.82" fill="#1c1ca0" text-anchor="start" textLength="15.3" lengthAdjust="spacingAndGlyphs" opacity="0.9">G1-9</text>
<rect x="335" y="433" width="29" height="18" fill="#fff"/>
<line x1="335" y1="433.75" x2="364" y2="433.75" stroke="#1c1ca0" stroke-width="1.5"/>
<line x1="335" y1="450.25" x2="364" y2="450.25" stroke="#1c1ca0" stroke-width="1.5"/>
<line x1="335.75" y1="433" x2="335.75" y2="451" stroke="#1c1ca0" stroke-width="1.5"/>
<text x="340" y="444" font-size="4.25" fill="#1c1ca0" text-anchor="start" textLength="15.3" lengthAdjust="spacingAndGlyphs" opacity="0.9">活性炭</text>
<polyline points="364,442 391,442 391,490.5 365.5,490.5" fill="none" stroke="#1c1ca0" stroke-width="1.25" stroke-dasharray="4,1.3,1,1.3"/>
<circle cx="391" cy="442" r="1.2" fill="#1c1ca0"/>
<circle cx="391" cy="490.5" r="1.2" fill="#1c1ca0"/>
<line x1="391" y1="470" x2="465" y2="470" stroke="#1c1ca0" stroke-width="1.25" stroke-dasharray="4,1.3,1,1.3"/>
<polygon points="465.00,470.00 461.20,467.72 461.20,472.28" fill="#1c1ca0"/>
<line x1="241.4" y1="451.7" x2="241.4" y2="460" stroke="#c81ec8" stroke-width="1.2"/>
<polygon points="241.40,460.00 239.72,457.20 243.08,457.20" fill="#c81ec8"/>
<text x="229" y="465" font-size="3.82" fill="#c81ec8" text-anchor="start" textLength="26.3" lengthAdjust="spacingAndGlyphs" opacity="0.9">W1-6 废水处理</text>
<line x1="349" y1="451" x2="349" y2="461" stroke="#c81ec8" stroke-width="1.2"/>
<polygon points="349.00,461.00 347.32,458.20 350.68,458.20" fill="#c81ec8"/>
<text x="335" y="469" font-size="3.82" fill="#c81ec8" text-anchor="start" textLength="25.5" lengthAdjust="spacingAndGlyphs" opacity="0.9">S1-6 废活性</text>
<rect x="178" y="481" width="37" height="18.5" fill="#fff"/>
<line x1="178" y1="482.1" x2="215" y2="482.1" stroke="#111" stroke-width="2.2"/>
<line x1="178" y1="498.4" x2="215" y2="498.4" stroke="#111" stroke-width="2.2"/>
<line x1="213.9" y1="481" x2="213.9" y2="499.5" stroke="#111" stroke-width="2.2"/>
<line x1="179.25" y1="481" x2="179.25" y2="499.5" stroke="#111" stroke-width="2.5"/>
<text x="184" y="488" font-size="4.25" fill="#333" text-anchor="start" textLength="17.0" lengthAdjust="spacingAndGlyphs">烯醇化</text>
<text x="184" y="496" font-size="4.25" fill="#333" text-anchor="start" textLength="23.8" lengthAdjust="spacingAndGlyphs">(甲苯溶液)</text>
<line x1="162.5" y1="490.5" x2="178" y2="490.5" stroke="#111" stroke-width="1.2"/>
<polygon points="178.00,490.50 175.00,488.70 175.00,492.30" fill="#111"/>
<text x="150" y="492" font-size="3.82" fill="#333" text-anchor="start" textLength="6.0" lengthAdjust="spacingAndGlyphs">甲</text>
<line x1="215" y1="490.5" x2="225.7" y2="490.5" stroke="#111" stroke-width="1.2"/>
<polygon points="225.70,490.50 222.70,488.70 222.70,492.30" fill="#111"/>
<line x1="196" y1="499.5" x2="196" y2="509" stroke="#111" stroke-width="2.8"/>
<text x="181" y="512" font-size="3.82" fill="#333" text-anchor="start" textLength="20.4" lengthAdjust="spacingAndGlyphs">下一工序</text>
<rect x="225.7" y="481.1" width="29.900000000000006" height="18.099999999999966" fill="#fff"/>
<line x1="225.7" y1="481.85" x2="255.6" y2="481.85" stroke="#111" stroke-width="1.5"/>
<line x1="225.7" y1="498.45" x2="255.6" y2="498.45" stroke="#111" stroke-width="1.5"/>
<line x1="254.85" y1="481.1" x2="254.85" y2="499.2" stroke="#111" stroke-width="1.5"/>
<text x="236" y="491" font-size="4.25" fill="#333" text-anchor="start" textLength="11.9" lengthAdjust="spacingAndGlyphs">冷凝</text>
<line x1="255.6" y1="490.5" x2="272.1" y2="490.5" stroke="#111" stroke-width="1.3"/>
<polygon points="272.10,490.50 268.60,488.40 268.60,492.60" fill="#111"/>
<rect x="272.1" y="481.1" width="29.899999999999977" height="18.099999999999966" fill="#fff"/>
<line x1="272.1" y1="481.90000000000003" x2="302" y2="481.90000000000003" stroke="#111" stroke-width="1.6"/>
<line x1="272.1" y1="498.4" x2="302" y2="498.4" stroke="#111" stroke-width="1.6"/>
<line x1="301.2" y1="481.1" x2="301.2" y2="499.2" stroke="#111" stroke-width="1.6"/>
<line x1="273.3" y1="481.1" x2="273.3" y2="499.2" stroke="#111" stroke-width="2.4"/>
<text x="287" y="488" font-size="4.25" fill="#333" text-anchor="start" textLength="5.1" lengthAdjust="spacingAndGlyphs">水</text>
<text x="278" y="495" font-size="4.25" fill="#333" text-anchor="start" textLength="17.0" lengthAdjust="spacingAndGlyphs">共沸脱水</text>
<line x1="302" y1="490.5" x2="335" y2="490.5" stroke="#1c1ca0" stroke-width="1.25" stroke-dasharray="4,1.3,1,1.3"/>
<polygon points="335.00,490.50 331.20,488.22 331.20,492.78" fill="#1c1ca0"/>
<text x="307" y="486" font-size="3.82" fill="#1c1ca0" text-anchor="start" textLength="15.3" lengthAdjust="spacingAndGlyphs" opacity="0.9">G1-10</text>
<rect x="335" y="481.1" width="30.5" height="18.099999999999966" fill="#fff"/>
<line x1="335" y1="481.85" x2="365.5" y2="481.85" stroke="#1c1ca0" stroke-width="1.5"/>
<line x1="335" y1="498.45" x2="365.5" y2="498.45" stroke="#1c1ca0" stroke-width="1.5"/>
<line x1="364.75" y1="481.1" x2="364.75" y2="499.2" stroke="#1c1ca0" stroke-width="1.5"/>
<line x1="335.75" y1="481.1" x2="335.75" y2="499.2" stroke="#1c1ca0" stroke-width="1.5"/>
<text x="340" y="492" font-size="4.25" fill="#1c1ca0" text-anchor="start" textLength="15.3" lengthAdjust="spacingAndGlyphs" opacity="0.9">活性炭</text>
<line x1="240.7" y1="503" x2="240.7" y2="507" stroke="#a01818" stroke-width="1.2"/>
<polygon points="240.70,507.00 239.20,504.50 242.20,504.50" fill="#a01818"/>
<text x="231" y="511" font-size="3.82" fill="#a01818" text-anchor="start" textLength="24.6" lengthAdjust="spacingAndGlyphs" opacity="0.9">W1-7 废水处理</text>
<line x1="350" y1="499.2" x2="350" y2="506" stroke="#c81ec8" stroke-width="1.2"/>
<polygon points="350.00,506.00 348.32,503.20 351.68,503.20" fill="#c81ec8"/>
<text x="338" y="511" font-size="3.82" fill="#c81ec8" text-anchor="start" textLength="23.8" lengthAdjust="spacingAndGlyphs" opacity="0.9">S1-7 废活性</text>
</svg>
</body></html>
